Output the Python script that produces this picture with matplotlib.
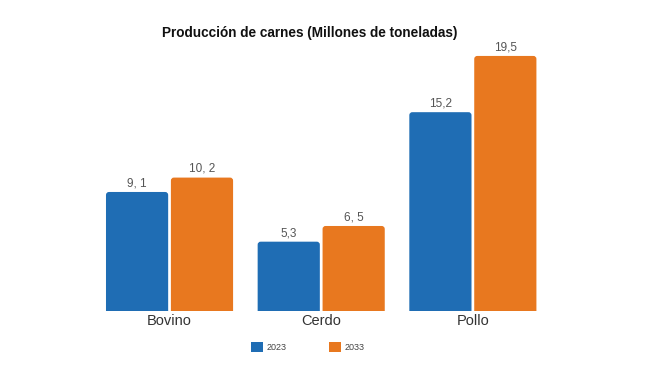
import matplotlib
matplotlib.use("Agg")
import matplotlib.pyplot as plt
from matplotlib.patches import FancyBboxPatch, Patch

plt.rcParams['font.family'] = ['Liberation Sans', 'DejaVu Sans']

categories = ["Bovino", "Cerdo", "Pollo"]
series_names = ["2023", "2033"]
values_2023 = [9.1, 5.3, 15.2]
values_2033 = [10.2, 6.5, 19.5]
labels_2023 = ["9, 1", "5,3", "15,2"]
labels_2033 = ["10, 2", "6, 5", "19,5"]
title = "Producción de carnes (Millones de toneladas)"

colors = ["#1F6DB4", "#E8781F"]

fig = plt.figure(figsize=(6.5, 3.66), dpi=100)
ax = fig.add_axes([93.7/650, 55/366, 455/650, 261.6/366])
ax.set_xlim(-0.5, 2.5)
ax.set_ylim(0, 20)

x = list(range(len(categories)))
off = 0.214
w = 0.41
for vals, labs, col, dx, name in [(values_2023, labels_2023, colors[0], -off, series_names[0]),
                                  (values_2033, labels_2033, colors[1], off, series_names[1])]:
    bars = ax.bar([i + dx for i in x], vals, width=w, color=col, label=name)
    for b, lab in zip(bars, labs):
        b.set_visible(False)
        xx, yy = b.get_x(), b.get_y()
        ww, hh = b.get_width(), b.get_height()
        p = FancyBboxPatch((xx, yy - 1), ww, hh + 1,
                           boxstyle="round,pad=0,rounding_size=0.02",
                           mutation_aspect=11.5, facecolor=col, edgecolor="none")
        ax.add_patch(p)
        ax.text(xx + ww / 2, hh + 0.2, lab, ha="center", va="bottom",
                fontsize=8.5, color="#555555")

for s in ax.spines.values():
    s.set_visible(False)
ax.set_yticks([])
ax.set_xticks(x)
ax.set_xticklabels(categories, fontsize=10.5, color="#333333")
ax.tick_params(axis="x", length=0, pad=2)

fig.text(310/650, 1 - 33/366, title, ha="center", va="center",
         fontsize=9.8, fontweight="bold", color="#111111")

leg_handles = [Patch(facecolor=colors[0]), Patch(facecolor=colors[1])]
fig.legend(leg_handles, series_names, loc="center", bbox_to_anchor=(308/650, 1 - 347/366),
           ncol=2, frameon=False, fontsize=6.5, handlelength=1.3, handleheight=1.3,
           columnspacing=4.75, handletextpad=0.4, labelcolor="#444444")

fig.savefig("out.png", dpi=100, facecolor="white")
